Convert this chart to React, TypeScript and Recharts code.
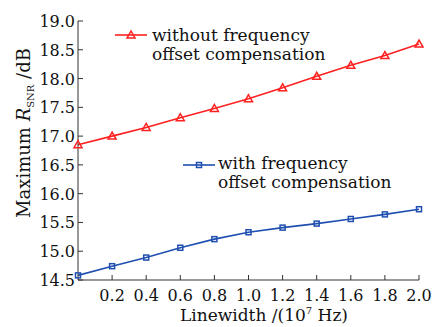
import React from 'react';
import { LineChart, Line, XAxis, YAxis } from 'recharts';

const linewidth = [0, 0.2, 0.4, 0.6, 0.8, 1.0, 1.2, 1.4, 1.6, 1.8, 2.0];
const withoutComp = [16.85, 17.0, 17.15, 17.32, 17.48, 17.65, 17.84, 18.04, 18.23, 18.4, 18.6];
const withComp = [14.58, 14.74, 14.89, 15.06, 15.21, 15.33, 15.41, 15.48, 15.56, 15.64, 15.73];
const xTicks = [0.2, 0.4, 0.6, 0.8, 1.0, 1.2, 1.4, 1.6, 1.8, 2.0];
const yTicks = [14.5, 15.0, 15.5, 16.0, 16.5, 17.0, 17.5, 18.0, 18.5, 19.0];
const withoutLegend = ['without frequency', 'offset compensation'];
const withLegend = ['with frequency', 'offset compensation'];

const RED = '#ff2020';
const BLUE = '#1f4fb0';
const AXIS = '#333333';
const FONT = 'DejaVu Serif';

const data = linewidth.map((x, i) => ({ x, without: withoutComp[i], with: withComp[i] }));

const XTick = (props: any) => {
  const { x, y, payload } = props;
  return (
    <g>
      <line x1={x} y1={y} x2={x} y2={y - 5} stroke={AXIS} strokeWidth={1} />
      <text x={x} y={y + 21} textAnchor="middle" fontFamily={FONT} fontSize={16} fill="#111">
        {Number(payload.value).toFixed(1)}
      </text>
    </g>
  );
};

const YTick = (props: any) => {
  const { x, y, payload } = props;
  return (
    <g>
      <line x1={x} y1={y} x2={x + 5} y2={y} stroke={AXIS} strokeWidth={1} />
      <text x={x - 3} y={y + 6} textAnchor="end" fontFamily={FONT} fontSize={16} fill="#111">
        {Number(payload.value).toFixed(1)}
      </text>
    </g>
  );
};

const Triangle = (props: any) => {
  const { cx, cy } = props;
  if (cx == null || cy == null) return null;
  const s = 4;
  return (
    <polygon
      points={`${cx},${cy - s} ${cx - s},${cy + s * 0.75} ${cx + s},${cy + s * 0.75}`}
      fill="none"
      stroke={RED}
      strokeWidth={1.5}
    />
  );
};

const Square = (props: any) => {
  const { cx, cy } = props;
  if (cx == null || cy == null) return null;
  return <rect x={cx - 2.5} y={cy - 2.5} width={5} height={5} fill="none" stroke={BLUE} strokeWidth={1.5} />;
};

export default function App() {
  return (
    <div style={{ position: 'absolute', left: 0, top: 0, width: 444, height: 327, background: '#fff' }}>
      <LineChart
        width={444}
        height={327}
        data={data}
        margin={{ top: 21, right: 25, bottom: 7, left: 8 }}
      >
        <XAxis
          dataKey="x"
          type="number"
          domain={[0, 2]}
          ticks={xTicks}
          height={40}
          tickSize={0}
          tickMargin={0}
          tickLine={false}
          axisLine={{ stroke: AXIS, strokeWidth: 1 }}
          tick={<XTick />}
          interval={0}
        />
        <YAxis
          type="number"
          domain={[14.5, 19]}
          ticks={yTicks}
          width={70}
          tickSize={0}
          tickMargin={0}
          tickLine={false}
          axisLine={{ stroke: AXIS, strokeWidth: 1 }}
          tick={<YTick />}
          interval={0}
        />
        <Line
          dataKey="without"
          stroke={RED}
          strokeWidth={1.6}
          dot={<Triangle />}
          isAnimationActive={false}
        />
        <Line
          dataKey="with"
          stroke={BLUE}
          strokeWidth={1.6}
          dot={<Square />}
          isAnimationActive={false}
        />
      </LineChart>
      <svg
        width={444}
        height={327}
        style={{ position: 'absolute', left: 0, top: 0, pointerEvents: 'none' }}
      >
        <line x1={115} y1={35} x2={147} y2={35} stroke={RED} strokeWidth={1.6} />
        <Triangle cx={131} cy={35} />
        <text x={152} y={41} fontFamily={FONT} fontSize={17} fill="#111">{withoutLegend[0]}</text>
        <text x={152} y={60} fontFamily={FONT} fontSize={17} fill="#111">{withoutLegend[1]}</text>
        <line x1={183} y1={165} x2={215} y2={165} stroke={BLUE} strokeWidth={1.6} />
        <Square cx={199} cy={165} />
        <text x={218} y={169} fontFamily={FONT} fontSize={17} fill="#111">{withLegend[0]}</text>
        <text x={218} y={188} fontFamily={FONT} fontSize={17} fill="#111">{withLegend[1]}</text>
        <text
          transform="translate(30,133) rotate(-90)"
          textAnchor="middle"
          fontFamily={FONT}
          fontSize={18}
          fill="#111"
        >
          Maximum <tspan fontStyle="italic">R</tspan>
          <tspan fontSize={10} dy={4}>SNR</tspan>
          <tspan dy={-4}> /dB</tspan>
        </text>
        <text x={264} y={321} textAnchor="middle" fontFamily={FONT} fontSize={17} fill="#111">
          Linewidth /(10<tspan fontSize={10} dy={-7}>7</tspan>
          <tspan dy={7}> Hz)</tspan>
        </text>
      </svg>
    </div>
  );
}
